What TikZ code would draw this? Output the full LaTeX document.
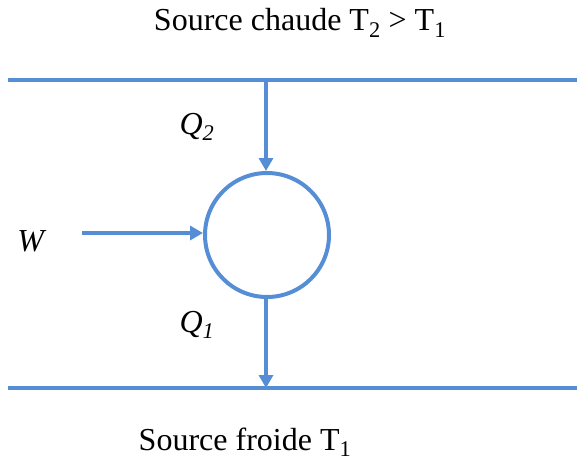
\documentclass[tikz,border=0pt]{standalone}
\usepackage{fontspec}
\setmainfont{Liberation Serif}
\usetikzlibrary{arrows.meta}
\definecolor{flux}{RGB}{86,142,214}

\begin{document}
\begin{tikzpicture}[x=1pt,y=-1pt,
    every node/.style={font=\fontsize{32}{36}\selectfont,inner sep=0pt},
    wall/.style={flux,line width=4.5pt},
    heat/.style={flux,line width=4pt,-{Triangle[length=13pt,width=14pt]}},
    engine/.style={circle,draw=flux,line width=4pt,minimum size=124pt,inner sep=0pt}]
  \useasboundingbox (0,0) rectangle (577,461);
  \node (hot) at (300,23) {Source chaude T\textsubscript{2} > T\textsubscript{1}};
  \node (cold) at (245,442) {Source froide T\textsubscript{1}};
  \draw[wall] (8,80) -- (577,80);
  \draw[wall] (8,388) -- (577,388);
  \coordinate (top) at (266,80);
  \coordinate (bot) at (266,388);
  \coordinate (w0) at (82,233);
  \node[engine] (m) at (267,235) {};
  \draw[heat] (top) -- (m.north -| top);
  \draw[heat] (m.south -| bot) -- (bot);
  \draw[heat] (w0) -- (m.west |- w0);
  \node (Q2) at (197,127) {\textit{Q\textsubscript{2}}};
  \node (Q1) at (197,325) {\textit{Q\textsubscript{1}}};
  \node (W) at (32,241) {\textit{W}};
\end{tikzpicture}
\end{document}
